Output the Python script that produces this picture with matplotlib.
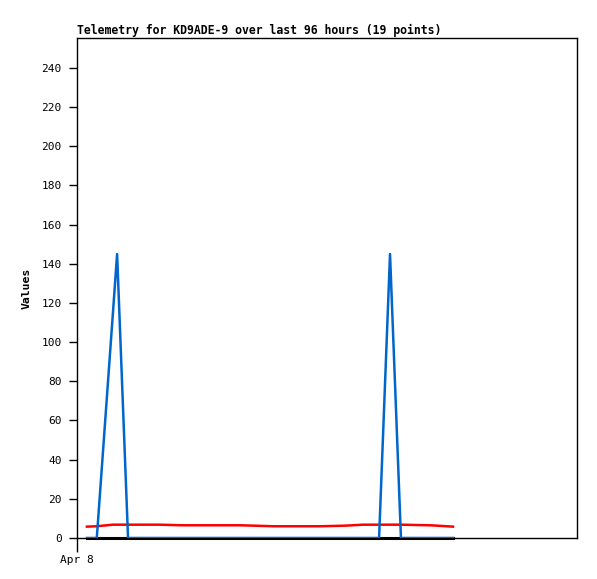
import matplotlib
matplotlib.use("Agg")
import matplotlib.pyplot as plt

hours = [1.9, 3.8, 6.9, 7.7, 9.8, 15.9, 20.2, 23.6, 31.3, 37.8, 46.7, 51.5,
         54.9, 58.0, 60.1, 62.2, 67.8, 71.0, 72.2]
blue_vals = [0, 0, 115, 145, 0, 0, 0, 0, 0, 0, 0, 0, 0, 0, 145, 0, 0, 0, 0]
red_vals = [5.8, 6.0, 6.8, 6.8, 6.8, 6.8, 6.5, 6.5, 6.5, 6.0, 6.0, 6.3,
            6.8, 6.8, 6.8, 6.8, 6.5, 6.0, 5.8]
black_vals = [0] * 19
y_ticks = list(range(0, 241, 20))
x_tick_pos = [0]
x_tick_labels = ["Apr 8"]

fig = plt.figure(figsize=(5.97, 5.79), dpi=100)
ax = fig.add_axes([77/597, 41/579, 500/597, 500/579])
ax.plot(hours, black_vals, color="black", lw=2.2, zorder=2, clip_on=False)
ax.plot(hours, red_vals, color="#ff0000", lw=1.8, zorder=3)
ax.plot(hours, blue_vals, color="#0066cc", lw=1.8, zorder=4)
ax.set_xlim(0, 96)
ax.set_ylim(0, 255.3)
ax.set_yticks(y_ticks)
ax.set_yticklabels([str(v) for v in y_ticks], family="DejaVu Sans Mono", fontsize=8)
ax.set_xticks(x_tick_pos)
ax.set_xticklabels(x_tick_labels, family="DejaVu Sans Mono", fontsize=8)
ax.tick_params(axis="y", length=6, width=1, pad=5)
ax.tick_params(axis="x", length=10, width=1, pad=2)
for s in ax.spines.values():
    s.set_linewidth(1)
ax.set_ylabel("Values", family="DejaVu Sans Mono", fontsize=8.25, fontweight="bold", labelpad=0)
ax.yaxis.set_label_coords(-90/500 + 0.0, 0.5)
ax.yaxis.label.set_position((0, 0.5))
ax.yaxis.set_label_coords((32 - 77) / 500, 0.5)
ax.set_title("Telemetry for KD9ADE-9 over last 96 hours (19 points)", loc="left",
             family="DejaVu Sans Mono", fontsize=8.3, fontweight="bold", pad=3)
fig.savefig("out.png", dpi=100)
